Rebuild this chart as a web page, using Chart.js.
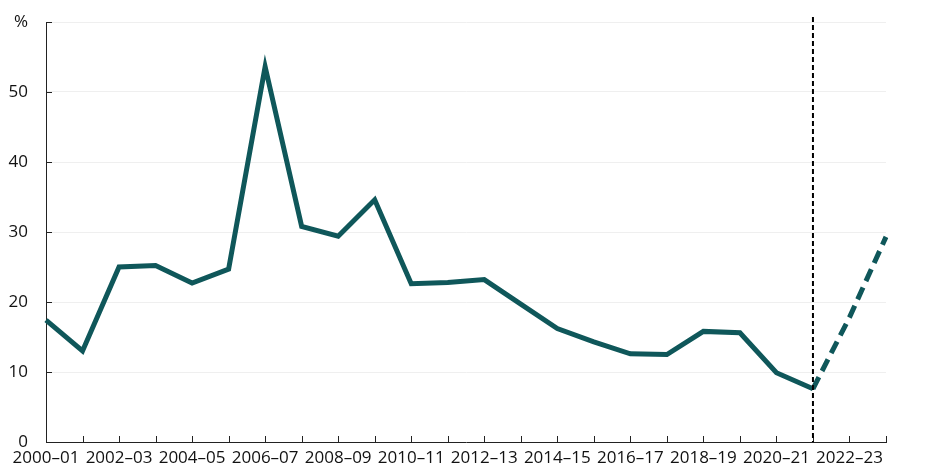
<!DOCTYPE html>
<html>
<head>
<meta charset="utf-8">
<script src="https://cdn.jsdelivr.net/npm/chart.js@4"></script>
<style>
  html, body { margin: 0; padding: 0; background: #fff; }
  #wrap { width: 942px; height: 473px; }
</style>
</head>
<body>
<div id="wrap"><canvas id="grafico"></canvas></div>
<script>
// Anos financeiros (eixo x)
const anos = [
  "2000–01", "2001–02", "2002–03", "2003–04", "2004–05", "2005–06",
  "2006–07", "2007–08", "2008–09", "2009–10", "2010–11", "2011–12",
  "2012–13", "2013–14", "2014–15", "2015–16", "2016–17", "2017–18",
  "2018–19", "2019–20", "2020–21", "2021–22", "2022–23", "2023–24"
];

// Valores observados (%), 2000–01 a 2021–22
const historico = [
  17.4, 13.0, 25.0, 25.2, 22.7, 24.7, 53.6, 30.8, 29.4, 34.6, 22.6, 22.8,
  23.2, 19.7, 16.2, 14.3, 12.6, 12.5, 15.8, 15.6, 9.9, 7.6
];

// Projeção (%), 2021–22 a 2023–24
const projecao = [7.6, 17.8, 29.3];
const inicioProjecao = 21;

const ticksY = [0, 10, 20, 30, 40, 50, 60];
const unidade = "%";

const corLinha = "#0f575a";
const fonte = "'Open Sans', sans-serif";

const dadosHistorico = anos.map((_, i) => i < historico.length ? historico[i] : null);
const dadosProjecao = anos.map((_, i) =>
  i >= inicioProjecao ? projecao[i - inicioProjecao] : null);

// tracinhos para dentro nos eixos, unidade no topo e linha vertical tracejada
const extras = {
  id: "extras",
  afterDraw(chart) {
    const { ctx, chartArea, scales } = chart;
    const x = scales.x, y = scales.y;
    ctx.save();
    ctx.strokeStyle = "#222";
    ctx.lineWidth = 1;
    ctx.beginPath();
    anos.forEach((_, i) => {
      const px = Math.round(x.getPixelForValue(i)) + 0.5;
      ctx.moveTo(px, chartArea.bottom);
      ctx.lineTo(px, chartArea.bottom - 6);
    });
    ticksY.forEach(v => {
      const py = Math.round(y.getPixelForValue(v)) + 0.5;
      ctx.moveTo(chartArea.left, py);
      ctx.lineTo(chartArea.left + 6, py);
    });
    ctx.stroke();

    ctx.fillStyle = "#111";
    ctx.font = "17px " + fonte;
    ctx.textAlign = "right";
    ctx.textBaseline = "middle";
    ctx.fillText(unidade, chartArea.left - 18, y.getPixelForValue(ticksY[ticksY.length - 1]));

    const xv = x.getPixelForValue(inicioProjecao);
    ctx.strokeStyle = "#000";
    ctx.lineWidth = 2;
    ctx.setLineDash([5, 3]);
    ctx.beginPath();
    ctx.moveTo(xv, chartArea.top - 5);
    ctx.lineTo(xv, chartArea.bottom);
    ctx.stroke();
    ctx.restore();
  }
};

new Chart(document.getElementById("grafico"), {
  type: "line",
  data: {
    labels: anos,
    datasets: [
      {
        data: dadosHistorico,
        borderColor: corLinha,
        borderWidth: 5,
        pointRadius: 0,
        tension: 0,
        borderJoinStyle: "miter",
        spanGaps: false
      },
      {
        data: dadosProjecao,
        borderColor: corLinha,
        borderWidth: 5,
        borderDash: [13, 7],
        pointRadius: 0,
        tension: 0,
        spanGaps: false
      }
    ]
  },
  options: {
    responsive: true,
    maintainAspectRatio: false,
    animation: false,
    layout: { padding: { top: 22, right: 56, left: 0, bottom: 0 } },
    plugins: { legend: { display: false }, tooltip: { enabled: false } },
    scales: {
      x: {
        offset: false,
        grid: { display: false, drawTicks: false },
        border: { display: true, color: "#222", width: 1 },
        ticks: {
          autoSkip: false,
          maxRotation: 0,
          padding: 6,
          color: "#111",
          font: { family: fonte, size: 17 },
          callback: (v, i) => i % 2 === 0 ? anos[i] : ""
        },
        afterFit: s => { s.height = 31; s.paddingLeft = 0; s.paddingRight = 0; }
      },
      y: {
        min: 0,
        max: 60,
        afterBuildTicks: s => { s.ticks = ticksY.map(v => ({ value: v })); },
        grid: {
          drawTicks: false,
          color: ctx => ctx.tick && ctx.tick.value === 0 ? "rgba(0,0,0,0)" : "#efefef",
          lineWidth: 1
        },
        border: { display: true, color: "#222", width: 1 },
        ticks: {
          padding: 18,
          color: "#111",
          font: { family: fonte, size: 17 },
          callback: v => v === 60 ? "" : v
        },
        afterFit: s => { s.width = 46; s.paddingTop = 0; s.paddingBottom = 0; }
      }
    }
  },
  plugins: [extras]
});
</script>
</body>
</html>
